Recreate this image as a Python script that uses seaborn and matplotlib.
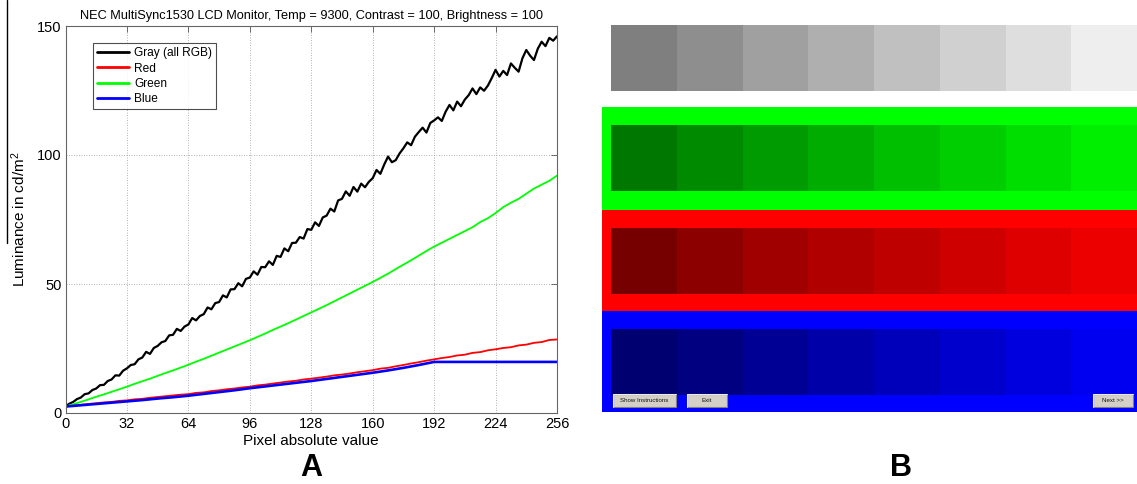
import matplotlib
matplotlib.use("Agg")
import matplotlib.pyplot as plt
import seaborn as sns
import pandas as pd
from matplotlib.lines import Line2D
from matplotlib.patches import Rectangle

# ---------------------------------------------------------------
# Luminance (cd/m^2) measured against pixel value
# ---------------------------------------------------------------
gray_x = list(range(0, 257, 2))
gray_lum = [
    2.6, 3.6, 4.3, 5.4, 6.0, 7.3, 7.6, 8.9,
    9.5, 10.8, 10.9, 12.4, 13.0, 14.6, 14.5, 16.4,
    17.3, 18.6, 18.9, 20.8, 21.5, 23.7, 22.9, 25.2,
    26.0, 27.4, 27.9, 30.1, 30.3, 32.6, 31.8, 33.5,
    34.3, 36.8, 35.9, 37.6, 38.3, 40.9, 40.2, 42.6,
    43.0, 45.6, 44.8, 47.9, 48.0, 50.3, 49.1, 52.0,
    52.5, 54.9, 53.6, 56.6, 56.5, 58.8, 57.4, 60.9,
    60.5, 63.8, 62.7, 65.9, 66.0, 68.2, 67.6, 71.3,
    71.0, 73.9, 72.5, 75.8, 76.5, 79.2, 78.1, 82.4,
    83.0, 85.9, 84.2, 87.6, 85.8, 88.9, 87.5, 89.6,
    91.0, 94.2, 92.7, 96.3, 99.4, 97.2, 98.0, 100.6,
    102.6, 104.9, 103.8, 107.1, 108.9, 110.6, 108.7, 112.4,
    113.4, 114.6, 113.2, 116.8, 119.4, 117.3, 120.7, 118.9,
    121.5, 123.2, 125.8, 123.6, 126.2, 124.9, 126.9, 129.8,
    133.0, 130.4, 132.6, 131.0, 135.5, 133.8, 132.3, 137.5,
    140.7, 138.5, 136.8, 141.2, 143.9, 142.2, 145.4, 144.3,
    146.0,
]

rgb_x = list(range(0, 257, 4))
red_lum = [
    2.5, 2.9, 3.2, 3.5, 3.8, 4.1, 4.3, 4.7, 4.9, 5.3,
    5.5, 5.9, 6.2, 6.5, 6.8, 7.1, 7.3, 7.8, 8.0, 8.5,
    8.8, 9.2, 9.5, 9.9, 10.2, 10.7, 11.0, 11.4, 11.8, 12.2,
    12.5, 13.0, 13.3, 13.7, 14.1, 14.6, 14.9, 15.3, 15.8, 16.2,
    16.6, 17.2, 17.5, 18.1, 18.6, 19.2, 19.7, 20.3, 20.8, 21.3,
    21.7, 22.3, 22.6, 23.3, 23.6, 24.3, 24.7, 25.2, 25.5, 26.2,
    26.5, 27.2, 27.5, 28.3, 28.5,
]
green_lum = [
    2.5, 3.4, 4.3, 5.3, 6.3, 7.2, 8.2, 9.2, 10.2, 11.3,
    12.3, 13.3, 14.4, 15.5, 16.5, 17.6, 18.7, 19.9, 21.0, 22.2,
    23.4, 24.6, 25.8, 27.0, 28.2, 29.5, 30.8, 32.2, 33.5, 34.8,
    36.2, 37.6, 39.0, 40.4, 41.8, 43.3, 44.8, 46.3, 47.8, 49.3,
    50.8, 52.4, 54.0, 55.8, 57.5, 59.2, 61.0, 62.8, 64.5, 66.0,
    67.5, 69.0, 70.5, 72.0, 74.0, 75.5, 77.5, 79.8, 81.5, 83.0,
    85.0, 87.0, 88.5, 90.0, 92.0,
]

blue_x = list(range(0, 257, 8))
blue_lum = [
    2.5, 3.0, 3.5, 4.0, 4.5, 5.0, 5.6, 6.1, 6.7, 7.4,
    8.1, 8.8, 9.6, 10.3, 11.0, 11.7, 12.4, 13.2, 14.0, 14.8,
    15.6, 16.5, 17.5, 18.6, 19.8, 19.8, 19.8, 19.8, 19.8, 19.8,
    19.8, 19.8, 19.8,
]

series_labels = ["Gray (all RGB)", "Red", "Green", "Blue"]
series_colors = ["#000000", "#ff0000", "#00ff00", "#0000ff"]
x_ticks = [0, 32, 64, 96, 128, 160, 192, 224, 256]
y_ticks = [0, 50, 100, 150]
chart_title = "NEC MultiSync1530 LCD Monitor, Temp = 9300, Contrast = 100, Brightness = 100"

# ---------------------------------------------------------------
# Test screen: eight intensity levels per row (0-255)
# ---------------------------------------------------------------
gray_levels = [127, 142, 160, 175, 192, 208, 222, 238]
green_levels = [120, 138, 155, 172, 190, 206, 222, 238]
red_levels = [118, 140, 160, 176, 190, 206, 222, 236]
blue_levels = [112, 128, 148, 168, 186, 204, 222, 240]
button_labels = ["Show Instructions", "Exit", "Next >>"]

# ---------------------------------------------------------------
sns.set_theme(style="white")
plt.rcParams["font.family"] = ["Liberation Sans", "DejaVu Sans"]
plt.rcParams["mathtext.fontset"] = "custom"
plt.rcParams["mathtext.rm"] = "Liberation Sans"
plt.rcParams["mathtext.it"] = "Liberation Sans"
plt.rcParams["text.color"] = "black"
plt.rcParams["axes.labelcolor"] = "black"
plt.rcParams["xtick.color"] = "black"
plt.rcParams["ytick.color"] = "black"

W, H = 1137, 484
fig = plt.figure(figsize=(W / 100, H / 100), dpi=100)
fig.patch.set_facecolor("white")


def fig_rect(left, top, right, bottom):
    """Convert a pixel box (origin top-left) to figure fractions."""
    return [left / W, (H - bottom) / H, (right - left) / W, (bottom - top) / H]


# ---------------- Panel A: luminance curves ----------------
ax = fig.add_axes(fig_rect(65.5, 26, 557, 413))
frames = {
    series_labels[0]: (gray_x, gray_lum, 1.6),
    series_labels[1]: (rgb_x, red_lum, 1.3),
    series_labels[2]: (rgb_x, green_lum, 1.3),
    series_labels[3]: (blue_x, blue_lum, 1.9),
}
for (label, (xs, ys, lw)), color in zip(frames.items(), series_colors):
    df = pd.DataFrame({"pixel": xs, "lum": ys})
    sns.lineplot(data=df, x="pixel", y="lum", ax=ax, color=color, lw=lw,
                 label=label, estimator=None, sort=False)

ax.set_xlim(0, 256)
ax.set_ylim(0, 150)
ax.set_xticks(x_ticks)
ax.set_yticks(y_ticks)
ax.grid(True, color="#9a9a9a", linestyle=(0, (1, 2)), linewidth=0.6)
ax.tick_params(direction="in", length=4, width=0.6, color="#555555",
               labelsize=10.5, top=True, right=True, labelcolor="black",
               pad=3)
for sp in ax.spines.values():
    sp.set_color("#666666")
    sp.set_linewidth(0.8)
ax.set_xlabel("Pixel absolute value", fontsize=11, labelpad=2, color="black")
ax.set_ylabel("Luminance in cd/m$^2$", fontsize=11, labelpad=6, color="black")
ax.set_title(chart_title, fontsize=9.2, pad=5, color="black")

leg = ax.legend(loc="upper left", bbox_to_anchor=(0.056, 0.956),
                fontsize=8.6, frameon=True, fancybox=False, borderpad=0.35,
                handlelength=2.7, handletextpad=0.4, labelspacing=0.28,
                borderaxespad=0)
leg.get_frame().set_edgecolor("#222222")
leg.get_frame().set_linewidth(0.8)
for t in leg.get_texts():
    t.set_color("black")
for h in leg.get_lines():
    h.set_linewidth(2.0)

fig.text(311 / W, 1 - 468 / H, "A", ha="center", va="center",
         fontsize=22, fontweight="bold", color="black")
fig.add_artist(Line2D([7 / W, 7 / W], [1.0, 1 - 243 / H],
                      transform=fig.transFigure, color="black", lw=1.0))

# ---------------- Panel B: colour test screen ----------------
U = 65.75  # one swatch, in pixels
bx = fig.add_axes(fig_rect(602, 20, 1137, 412))
bx.set_xlim(-9 / U, 526 / U)
bx.set_ylim(0, 392 / U)
bx.axis("off")


def py(pixel_y):
    """Pixel row (from top) to swatch units measured up from the panel base."""
    return (412 - pixel_y) / U


def rgb(ch, v):
    c = [0, 0, 0]
    for k in ch:
        c[k] = v / 255
    return tuple(c)


rows = [
    ("gray", gray_levels, (0, 1, 2), None, 91),
    ("green", green_levels, (1,), (107, 210), 191),
    ("red", red_levels, (0,), (210, 311), 294),
    ("blue", blue_levels, (2,), (311, 412), 395),
]
for name, levels, ch, panel, sq_bottom in rows:
    if panel is not None:
        bx.add_patch(Rectangle((-9 / U, py(panel[1])), 540 / U,
                               (panel[1] - panel[0]) / U,
                               facecolor=rgb(ch, 255), edgecolor="none", zorder=1))
    bx.bar(range(len(levels)), 66 / U, bottom=py(sq_bottom), width=1.0,
           align="edge", color=[rgb(ch, v) for v in levels], linewidth=0,
           zorder=2)

# window buttons
buttons = [(button_labels[0], 612.5, 676), (button_labels[1], 687, 726.5),
           (button_labels[2], 1093, 1133)]
for text, x0, x1 in buttons:
    left = (x0 - 611) / U
    w = (x1 - x0) / U
    b0, h0 = py(407), 13 / U
    bx.add_patch(Rectangle((left, b0), w, h0, facecolor="#d4d0c8",
                           edgecolor="#808080", linewidth=0.8, zorder=3))
    bx.plot([left, left, left + w], [b0, b0 + h0, b0 + h0], color="white",
            lw=0.6, zorder=4)
    bx.text(left + w / 2, b0 + h0 / 2, text, ha="center", va="center",
            fontsize=4.4, color="#111111", zorder=5)

fig.text(901 / W, 1 - 468 / H, "B", ha="center", va="center",
         fontsize=22, fontweight="bold", color="black")

fig.savefig("out.png", dpi=100, facecolor="white")
